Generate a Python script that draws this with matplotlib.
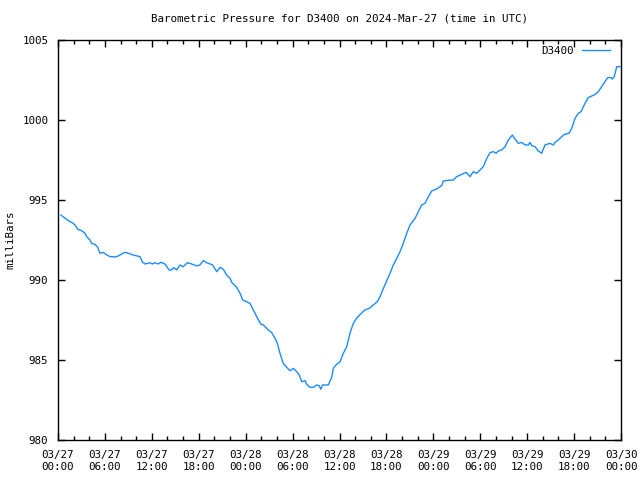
"""Barometric pressure trace for station D3400, 2024-03-27 .. 2024-03-30 (UTC)."""

import matplotlib
matplotlib.use("Agg")
import matplotlib.pyplot as plt
from matplotlib.ticker import MultipleLocator

# hours since 2024-03-27 00:00 UTC and pressure in millibars
hours = [
    0.38, 0.90, 1.32, 1.96, 2.26, 2.52, 3.03, 3.45, 3.67, 4.09, 4.31, 4.73,
    5.08, 5.37, 5.79, 6.10, 6.65, 7.29, 7.71, 8.15, 8.57, 8.99, 9.63, 10.49,
    10.78, 11.13, 11.77, 12.06, 12.41, 12.83, 13.17, 13.68, 14.20, 14.54,
    14.80, 15.18, 15.60, 16.02, 16.54, 17.10, 17.74, 18.16, 18.58, 19.02,
    19.44, 19.78, 20.30, 20.72, 21.14, 21.57, 22.00, 22.21, 22.85, 23.28,
    23.62, 24.13, 24.55, 24.98, 25.41, 25.92, 26.26, 26.90, 27.33, 27.75,
    28.05, 28.39, 28.81, 29.25, 29.67, 30.09, 30.53, 30.86, 31.17, 31.59,
    31.81, 32.23, 32.65, 33.08, 33.42, 33.60, 33.85, 34.57, 35.00, 35.21,
    35.55, 36.06, 36.49, 36.92, 37.34, 37.77, 38.28, 38.71, 39.26, 39.81,
    40.32, 40.83, 41.18, 41.53, 42.46, 42.88, 43.32, 43.74, 44.16, 44.60,
    45.02, 45.66, 46.08, 46.51, 46.94, 47.36, 47.79, 48.43, 49.07, 49.28,
    49.91, 50.55, 50.99, 51.63, 52.18, 52.69, 53.11, 53.55, 53.88, 54.39,
    54.83, 55.25, 55.67, 56.02, 56.31, 56.75, 57.17, 57.59, 58.10, 58.45,
    58.87, 59.30, 59.72, 60.15, 60.36, 60.58, 61.00, 61.43, 61.86, 62.28,
    62.92, 63.35, 63.56, 63.98, 64.42, 64.75, 65.35, 65.70, 66.12, 66.54,
    66.89, 67.40, 67.82, 68.33, 68.68, 69.10, 69.53, 69.96, 70.30, 70.72,
    70.89, 71.14, 71.45, 71.87,
]
pressure = [
    994.06, 993.86, 993.71, 993.54, 993.38, 993.17, 993.08, 992.92, 992.71,
    992.50, 992.29, 992.23, 992.04, 991.67, 991.73, 991.61, 991.46, 991.44,
    991.50, 991.63, 991.73, 991.67, 991.56, 991.46, 991.14, 991.00, 991.08,
    991.00, 991.08, 991.00, 991.11, 991.00, 990.63, 990.63, 990.77, 990.63,
    990.94, 990.83, 991.08, 991.00, 990.88, 990.94, 991.21, 991.08, 991.00,
    990.94, 990.52, 990.79, 990.67, 990.31, 990.11, 989.86, 989.54, 989.17,
    988.75, 988.64, 988.54, 988.13, 987.71, 987.25, 987.19, 986.88, 986.71,
    986.36, 986.04, 985.42, 984.79, 984.54, 984.33, 984.48, 984.27, 984.06,
    983.64, 983.71, 983.48, 983.29, 983.29, 983.44, 983.38, 983.17, 983.44,
    983.44, 983.92, 984.48, 984.69, 984.89, 985.42, 985.83, 986.67, 987.29,
    987.67, 987.88, 988.13, 988.23, 988.44, 988.64, 988.96, 989.38, 990.42,
    990.94, 991.35, 991.77, 992.29, 992.92, 993.44, 993.85, 994.27, 994.69,
    994.79, 995.20, 995.56, 995.69, 995.90, 996.19, 996.23, 996.25, 996.46,
    996.60, 996.73, 996.46, 996.77, 996.67, 996.83, 997.08, 997.60, 997.96,
    998.02, 997.92, 998.06, 998.13, 998.33, 998.75, 999.06, 998.81, 998.54,
    998.60, 998.44, 998.44, 998.60, 998.40, 998.33, 998.06, 997.92, 998.44,
    998.54, 998.44, 998.60, 998.75, 998.96, 999.10, 999.17, 999.48, 1000.10,
    1000.42, 1000.52, 1001.04, 1001.40, 1001.52, 1001.60, 1001.77, 1002.08,
    1002.40, 1002.65, 1002.65, 1002.56, 1002.71, 1003.33, 1003.33,
]

tick_hours = list(range(0, 73, 6))
tick_labels = [
    "03/27\n00:00", "03/27\n06:00", "03/27\n12:00", "03/27\n18:00",
    "03/28\n00:00", "03/28\n06:00", "03/28\n12:00", "03/28\n18:00",
    "03/29\n00:00", "03/29\n06:00", "03/29\n12:00", "03/29\n18:00",
    "03/30\n00:00",
]

plt.rcParams["font.family"] = ["DejaVu Sans Mono"]
plt.rcParams["font.size"] = 7.8

fig = plt.figure(figsize=(6.4, 4.8), dpi=100)
ax = fig.add_axes([58 / 640, 40 / 480, 563 / 640, 400 / 480])

ax.plot(hours, pressure, color="#1a8cff", lw=1.0, label="D3400")

ax.set_xlim(0, 72)
ax.set_ylim(980, 1005)
ax.set_xticks(tick_hours)
ax.set_xticklabels(tick_labels, linespacing=1.3)
ax.xaxis.set_minor_locator(MultipleLocator(2))
ax.set_yticks(range(980, 1006, 5))

ax.tick_params(which="both", direction="in", top=True, right=True, width=1,
               colors="black", labelsize=7.8)
ax.tick_params(which="major", length=5, pad=7)
ax.tick_params(which="minor", length=3)
for s in ax.spines.values():
    s.set_linewidth(1)

# y label sits close to the left edge, as in the gnuplot original
ax.set_ylabel("milliBars")
ax.yaxis.set_label_coords((15 - 58) / 563, 0.5)
ax.set_title("Barometric Pressure for D3400 on 2024-Mar-27 (time in UTC)",
             fontsize=7.8, pad=13)

ax.legend(loc="upper right", bbox_to_anchor=(1 - 5 / 563, 1), frameon=False,
          markerfirst=False, handlelength=2.6, borderaxespad=0.15,
          handletextpad=0.75)

fig.savefig("out.png", dpi=100)
